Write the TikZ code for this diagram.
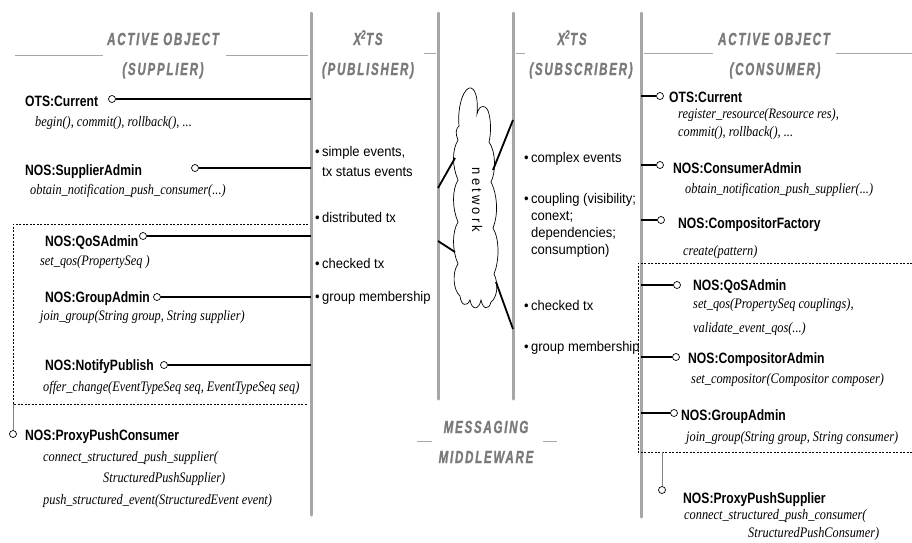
\documentclass[tikz,border=0pt]{standalone}
\usepackage{fontspec}
\newfontfamily\lblfont[FakeStretch=0.81]{Liberation Sans}
\newfontfamily\methfont[FakeStretch=0.85]{Liberation Serif}
\newfontfamily\itemfont[FakeStretch=0.93]{Liberation Sans}
\newfontfamily\hdrfont[FakeStretch=0.66,LetterSpace=10,FakeBold=1.2]{Liberation Sans}
\definecolor{railgray}{HTML}{A6A6A6}
\definecolor{hdrgray}{HTML}{7A7A7A}
\begin{document}
\begin{tikzpicture}[x=1pt,y=-1pt,
	rail/.style={line width=3pt,railgray,line cap=round},
	hline/.style={line width=0.8pt,railgray},
	hdr/.style={font=\hdrfont\bfseries\itshape\fontsize{17.5}{19}\selectfont,text=hdrgray,inner sep=0,anchor=base},
	lbl/.style={font=\lblfont\bfseries\fontsize{15}{17}\selectfont,anchor=base west,inner sep=0},
	meth/.style={font=\methfont\itshape\fontsize{14.5}{17}\selectfont,anchor=base west,inner sep=0},
	item/.style={font=\itemfont\fontsize{14}{17}\selectfont,anchor=base west,inner sep=0},
	port/.style={circle,draw,fill=white,inner sep=0,minimum size=7pt,line width=0.7pt},
	conn/.style={line width=1.1pt},
	link/.style={line width=1.8pt},
	dashbox/.style={line width=0.8pt,dash pattern=on 2pt off 1.5pt}]
	\useasboundingbox (0,0) rectangle (912,542);
	% rails
	\coordinate (pubL) at (311,0); \coordinate (pubR) at (438,0);
	\coordinate (subL) at (513,0); \coordinate (subR) at (641,0);
	\draw[rail] (311,13) -- (311,515);
	\draw[rail] (438,13) -- (438,399);
	\draw[rail] (513,13) -- (513,399);
	\draw[rail] (641,13) -- (641,517);
	% headers
	\draw[hline] (15,55) -- (103,55) (226,55) -- (308,55);
	\draw[hline] (424,53) -- (436,53) (516,53) -- (525,53);
	\draw[hline] (644,53) -- (713,53) (836,53) -- (912,53);
	\draw[hline] (417,441) -- (432,441) (543,441) -- (557,441);
	\node[hdr] (supT) at (163,45) {ACTIVE OBJECT};
	\node[hdr] (supB) at (163,75) {(SUPPLIER)};
	\node[hdr] (pubT) at (368,45) {X\textsuperscript{2}TS};
	\node[hdr] (pubB) at (368,75) {(PUBLISHER)};
	\node[hdr] (subT) at (572,45) {X\textsuperscript{2}TS};
	\node[hdr] (subB) at (581,75) {(SUBSCRIBER)};
	\node[hdr] (conT) at (774,45) {ACTIVE OBJECT};
	\node[hdr] (conB) at (775,75) {(CONSUMER)};
	\node[hdr] (mwT) at (486,433) {MESSAGING};
	\node[hdr] (mwB) at (486,463) {MIDDLEWARE};
	% supplier
	\node[lbl] (otsS) at (25,106) {OTS:Current};
	\node[port] (pOtsS) at (112,99) {};
	\node[meth] at (35,126) {begin(), commit(), rollback(), ...};
	\node[lbl] (supAdm) at (25,175) {NOS:SupplierAdmin};
	\node[port] (pSupAdm) at (195,168) {};
	\node[meth] at (30,194) {obtain\_notification\_push\_consumer(...)};
	\draw[dashbox] (308,224) -- (13,224) -- (13,404) -- (308,404);
	\node[lbl] (qosS) at (45,246) {NOS:QoSAdmin};
	\node[port] (pQosS) at (143,236) {};
	\node[meth] at (40,265) {set\_qos(PropertySeq )};
	\node[lbl] (grpS) at (45,302) {NOS:GroupAdmin};
	\node[port] (pGrpS) at (157,297) {};
	\node[meth] at (40,320) {join\_group(String group, String supplier)};
	\node[lbl] (ntfS) at (45,370) {NOS:NotifyPublish};
	\node[port] (pNtfS) at (164,365) {};
	\node[meth] at (43,391) {offer\_change(EventTypeSeq seq, EventTypeSeq seq)};
	\coordinate (boxS) at (13,404);
	\node[port] (pPrxS) at (13,434) {};
	\node[lbl] (prxS) at (25,440) {NOS:ProxyPushConsumer};
	\node[meth] at (43,461) {connect\_structured\_push\_supplier(};
	\node[meth] at (103,482) {StructuredPushSupplier)};
	\node[meth] at (43,504) {push\_structured\_event(StructuredEvent event)};
	\foreach \p in {pOtsS,pSupAdm,pQosS,pGrpS,pNtfS}
		\draw[conn] (\p) -- (\p -| pubL);
	\draw[gray,line width=1pt] (boxS) -- (pPrxS);
	% publisher
	\node[item] (simS) at (315,156) {\textbullet\,simple events,};
	\node[item] at (322,176) {tx status events};
	\node[item] (dtxS) at (315,222) {\textbullet\,distributed tx};
	\node[item] (chkS) at (315,268) {\textbullet\,checked tx};
	\node[item] (grmS) at (315,301) {\textbullet\,group membership};
	% network
	\draw[line width=0.7pt] (459,126)
		.. controls (457,104) and (465,86) .. (471,88)
		.. controls (477,90) and (478,104) .. (477,114)
		.. controls (479,104) and (487,104) .. (489,114)
		.. controls (491,122) and (491,134) .. (489,142)
		.. controls (496,152) and (496,172) .. (491,182)
		.. controls (498,196) and (498,216) .. (493,228)
		.. controls (500,240) and (499,262) .. (494,274)
		.. controls (499,284) and (497,298) .. (491,302)
		.. controls (489,310) and (483,310) .. (481,300)
		.. controls (479,310) and (472,311) .. (470,300)
		.. controls (467,307) and (461,306) .. (460,296)
		.. controls (453,290) and (452,272) .. (458,264)
		.. controls (452,250) and (452,232) .. (458,222)
		.. controls (452,208) and (452,190) .. (458,180)
		.. controls (452,166) and (452,150) .. (458,140)
		.. controls (455,134) and (456,128) .. (459,126) -- cycle;
	\node[rotate=-90,inner sep=0,font=\itemfont\addfontfeature{LetterSpace=22}\fontsize{14}{17}\selectfont]
		(net) at (477,200) {network};
	\coordinate (nA) at (455,158); \coordinate (nB) at (455,252);
	\coordinate (nC) at (493,170); \coordinate (nD) at (496,282);
	\draw[link] (pubR |- 0,188) -- (nA);
	\draw[link] (pubR |- 0,241) -- (nB);
	\draw[link] (nC) -- (subL |- 0,120);
	\draw[link] (nD) -- (subL |- 0,329);
	% subscriber
	\node[item] (cpxS) at (524,162) {\textbullet\,complex events};
	\node[item] (cplS) at (524,203) {\textbullet\,coupling (visibility;};
	\node[item] at (531,220) {conext;};
	\node[item] at (531,237) {dependencies;};
	\node[item] at (531,254) {consumption)};
	\node[item] (chkC) at (524,310) {\textbullet\,checked tx};
	\node[item] (grmC) at (524,351) {\textbullet\,group membership};
	% consumer
	\node[port] (pOtsC) at (660,96) {};
	\node[lbl] (otsC) at (669,102) {OTS:Current};
	\node[meth] at (678,118) {register\_resource(Resource res),};
	\node[meth] at (678,136) {commit(), rollback(), ...};
	\node[port] (pConAdm) at (660,165) {};
	\node[lbl] (conAdm) at (673,173) {NOS:ConsumerAdmin};
	\node[meth] at (685,193) {obtain\_notification\_push\_supplier(...)};
	\node[port] (pCmpF) at (661,220) {};
	\node[lbl] (cmpF) at (678,228) {NOS:CompositorFactory};
	\node[meth] at (683,255) {create(pattern)};
	\draw[dashbox] (912,263) -- (638,263) -- (638,452) -- (912,452);
	\node[port] (pQosC) at (677,285) {};
	\node[lbl] (qosC) at (693,290) {NOS:QoSAdmin};
	\node[meth] at (693,308) {set\_qos(PropertySeq couplings),};
	\node[meth] at (693,332) {validate\_event\_qos(...)};
	\node[port] (pCmpA) at (676,357) {};
	\node[lbl] (cmpA) at (688,363) {NOS:CompositorAdmin};
	\node[meth] at (691,383) {set\_compositor(Compositor composer)};
	\node[port] (pGrpC) at (674,413) {};
	\node[lbl] (grpC) at (681,420) {NOS:GroupAdmin};
	\node[meth] at (686,441) {join\_group(String group, String consumer)};
	\coordinate (boxC) at (662,452);
	\node[port] (pPrxC) at (662,490) {};
	\node[lbl] (prxC) at (683,503) {NOS:ProxyPushSupplier};
	\node[meth] at (684,519) {connect\_structured\_push\_consumer(};
	\node[meth] at (748,537) {StructuredPushConsumer)};
	\foreach \p in {pOtsC,pConAdm,pCmpF,pQosC,pCmpA,pGrpC}
		\draw[conn] (\p -| subR) -- (\p);
	\draw[gray,line width=1pt] (boxC) -- (pPrxC);
\end{tikzpicture}
\end{document}
